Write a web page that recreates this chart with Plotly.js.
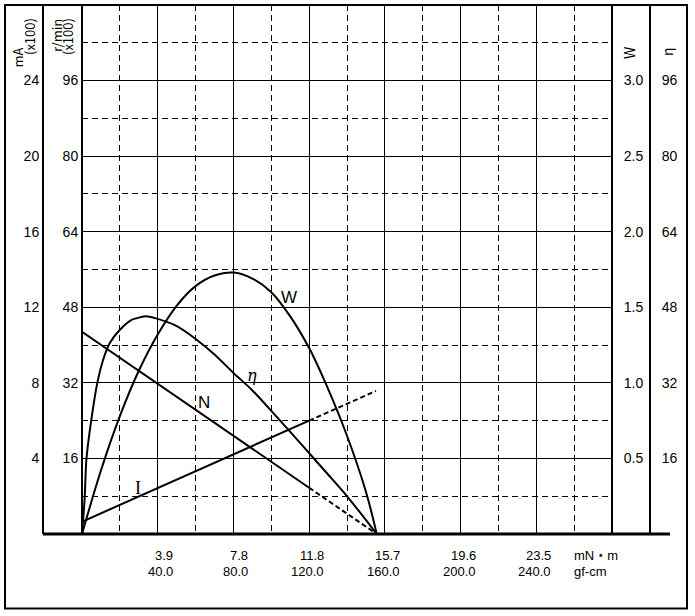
<!DOCTYPE html>
<html><head><meta charset="utf-8">
<script src="https://cdn.plot.ly/plotly-3.0.1.min.js"></script>
<style>html,body{margin:0;padding:0;background:#fff;}#chart{width:695px;height:616px;}</style>
</head><body><div id="chart"></div>
<script>
// ---- data ----
const torqueTicksGf = [40, 80, 120, 160, 200, 240];
const torqueTicksMNm = ['3.9', '7.8', '11.8', '15.7', '19.6', '23.5'];
const currentTicks = [4, 8, 12, 16, 20, 24];
const speedTicks = [16, 32, 48, 64, 80, 96];
const powerTicks = [0.5, 1.0, 1.5, 2.0, 2.5, 3.0];
const effTicks = [16, 32, 48, 64, 80, 96];

// I : current (mA x100) vs torque (gf-cm)
const currentTorque = [0, 120, 155.3];
const currentValues = [0.65, 6.0, 7.57];
// N : speed (r/min x100)
const speedTorque = [0, 120, 155.7];
const speedValues = [42.8, 9.8, 0];
// W : output (W)
const powerTorque = [0, 10, 20, 30, 40, 50, 60, 70, 80, 90, 100, 110, 120, 130, 140, 150, 155.7];
const powerValues = [0, 0.42, 0.78, 1.08, 1.32, 1.51, 1.64, 1.71, 1.73, 1.69, 1.60, 1.44, 1.23, 0.96, 0.65, 0.28, 0];
// eta : efficiency (%)
const effTorque = [0, 1.4, 2.3, 4.9, 8.1, 11.1, 14.6, 19.9, 26, 34, 38.6, 49.1, 59.7, 70.3, 80, 89.8, 100.4, 109.2, 118.5, 130, 139.5, 148, 155.7];
const effValues = [0, 7.5, 15.7, 24.1, 32.0, 36.8, 40.4, 43.2, 45.3, 46.1, 45.7, 44.2, 41.4, 37.9, 34.1, 30.5, 25.9, 22.0, 17.8, 12.6, 8.25, 4.0, 0];

// ---- layout helpers ----
const L = 43, R = 7, T = 5, B = 82, WD = 695, HT = 616;
const PW = WD - L - R, PH = HT - T - B;
const px = v => (v - L) / PW;
const py = v => (HT - B - v) / PH;

const FONT = '"Noto Sans CJK JP", "Noto Sans", sans-serif';
const TICKFONT = '"Liberation Sans", Arial, sans-serif';
const dashGrid = '6px,4px';
const curve = {color: 'black', width: 2};
const dashed = {color: 'black', width: 2, dash: '5px,3px'};

const traces = [
  {x: currentTorque.slice(0, 2), y: currentValues.slice(0, 2), yaxis: 'y', line: curve},
  {x: currentTorque.slice(1), y: currentValues.slice(1), yaxis: 'y', line: dashed},
  {x: speedTorque.slice(0, 2), y: speedValues.slice(0, 2), yaxis: 'y2', line: curve},
  {x: speedTorque.slice(1), y: speedValues.slice(1), yaxis: 'y2', line: dashed},
  {x: powerTorque, y: powerValues, yaxis: 'y3', line: Object.assign({shape: 'spline', smoothing: 1}, curve)},
  {x: effTorque, y: effValues, yaxis: 'y4', line: Object.assign({shape: 'spline', smoothing: 0.6}, curve)}
].map(t => Object.assign({type: 'scatter', mode: 'lines', xaxis: 'x', hoverinfo: 'skip', cliponaxis: false}, t));

const axisCommon = {
  showline: true, linecolor: 'black', linewidth: 2, ticks: '', zeroline: false,
  tickfont: {family: TICKFONT, size: 14, color: 'black'}, tickmode: 'array', fixedrange: true
};

const annotations = [];
torqueTicksGf.forEach((g, i) => {
  annotations.push({x: g, xref: 'x', y: py(555.5), yref: 'paper', text: torqueTicksMNm[i], showarrow: false,
    xanchor: 'right', yanchor: 'middle', xshift: 17, font: {family: TICKFONT, size: 13, color: 'black'}});
  annotations.push({x: g, xref: 'x', y: py(571.5), yref: 'paper', text: g.toFixed(1), showarrow: false,
    xanchor: 'right', yanchor: 'middle', xshift: 17, font: {family: TICKFONT, size: 13, color: 'black'}});
});
annotations.push({x: px(572), xref: 'paper', y: py(555.5), yref: 'paper', text: 'mN・m', showarrow: false,
  xanchor: 'left', yanchor: 'middle', font: {family: '"Liberation Sans", "Noto Sans CJK JP", sans-serif', size: 13, color: 'black'}});
annotations.push({x: px(572), xref: 'paper', y: py(571.5), yref: 'paper', text: 'gf-cm', showarrow: false,
  xanchor: 'left', yanchor: 'middle', font: {family: TICKFONT, size: 13, color: 'black'}});

const vtitles = [
  ['mA', 17.5, 58, 13], ['(x100)', 29.5, 36.5, 13], ['r/min', 56, 36, 13], ['(x100)', 67.5, 36.5, 13],
  ['W', 629, 53, 14], ['η', 667, 52, 14]
];
vtitles.forEach(([t, x, y, s]) => annotations.push({x: px(x), xref: 'paper', y: py(y), yref: 'paper', text: t,
  textangle: -90, showarrow: false, xanchor: 'center', yanchor: 'middle',
  font: {family: FONT, size: s, color: 'black'}}));

// curve labels (data coordinates of the mA axis)
annotations.push({x: 109.4, xref: 'x', y: 12.54, yref: 'y', text: 'W', showarrow: false,
  font: {family: '"Liberation Sans", Arial, sans-serif', size: 17, color: 'black'}});
annotations.push({x: 64.5, xref: 'x', y: 6.98, yref: 'y', text: 'N', showarrow: false,
  font: {family: '"Liberation Sans", Arial, sans-serif', size: 17, color: 'black'}});
annotations.push({x: 89.8, xref: 'x', y: 8.41, yref: 'y', text: '<i>η</i>', showarrow: false,
  font: {family: '"DejaVu Serif", serif', size: 16, color: 'black'}});
annotations.push({x: 29.6, xref: 'x', y: 2.43, yref: 'y', text: 'I', showarrow: false,
  font: {family: '"Liberation Serif", serif', size: 18, color: 'black'}});

const layout = {
  width: WD, height: HT, margin: {l: L, r: R, t: T, b: B, pad: 0},
  paper_bgcolor: 'white', plot_bgcolor: 'white', showlegend: false,
  xaxis: {
    domain: [px(82), px(612)], range: [0, 280], anchor: 'y', showline: false, zeroline: false,
    tickmode: 'array', tickvals: torqueTicksGf, showticklabels: false, ticks: '',
    showgrid: true, gridcolor: 'black', gridwidth: 1, fixedrange: true,
    minor: {tickmode: 'linear', tick0: 0, dtick: 20, showgrid: true, gridcolor: 'black', gridwidth: 1, griddash: dashGrid}
  },
  yaxis: Object.assign({}, axisCommon, {
    range: [0, 28], domain: [0, 1], anchor: 'free', position: 0, side: 'left',
    tickvals: currentTicks, showgrid: true, gridcolor: 'black', gridwidth: 1,
    minor: {tickmode: 'linear', tick0: 0, dtick: 2, showgrid: true, gridcolor: 'black', gridwidth: 1, griddash: dashGrid}
  }),
  yaxis2: Object.assign({}, axisCommon, {
    range: [0, 112], overlaying: 'y', anchor: 'free', position: px(82), side: 'left',
    tickvals: speedTicks, showgrid: false
  }),
  yaxis3: Object.assign({}, axisCommon, {
    range: [0, 3.5], overlaying: 'y', anchor: 'free', position: px(612), side: 'right',
    tickvals: powerTicks, tickformat: '.1f', showgrid: false, ticklabelstandoff: 8
  }),
  yaxis4: Object.assign({}, axisCommon, {
    range: [0, 112], overlaying: 'y', anchor: 'free', position: px(650), side: 'right',
    tickvals: effTicks, showgrid: false, ticklabelstandoff: 8
  }),
  shapes: [
    {type: 'rect', xref: 'paper', yref: 'paper', x0: px(5), x1: px(687), y0: py(608.5), y1: py(5),
      line: {color: 'black', width: 2}, layer: 'above'},
    {type: 'line', xref: 'paper', yref: 'paper', x0: px(43), x1: px(670), y0: py(534), y1: py(534),
      line: {color: 'black', width: 3}, layer: 'above'}
  ],
  annotations: annotations
};

Plotly.newPlot('chart', traces, layout, {staticPlot: true, displayModeBar: false});
</script>
</body></html>
